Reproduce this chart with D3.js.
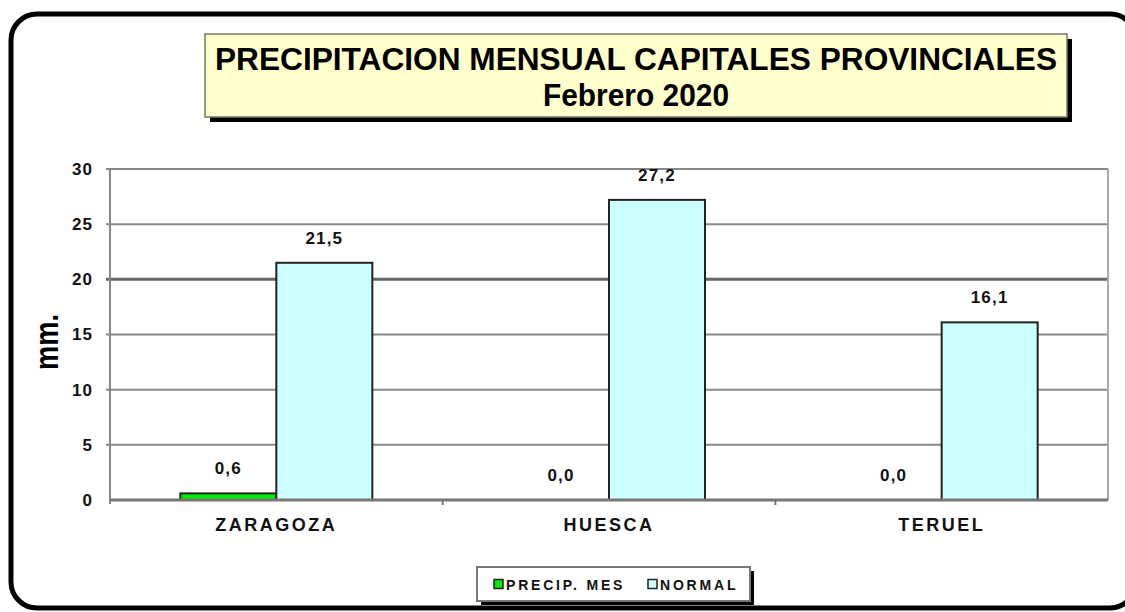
<!DOCTYPE html>
<html>
<head>
<meta charset="utf-8">
<script src="https://cdn.jsdelivr.net/npm/d3@7"></script>
<style>
  body { margin: 0; background: #fff; }
  text { font-family: Arial, "Liberation Sans", sans-serif; }
</style>
</head>
<body>
<script>
var categories = ["ZARAGOZA", "HUESCA", "TERUEL"];
var seriesNames = ["PRECIP. MES", "NORMAL"];
var precipMes = [0.6, 0.0, 0.0];
var normal = [21.5, 27.2, 16.1];
var yTicks = [0, 5, 10, 15, 20, 25, 30];
var colors = ["#00ee00", "#ccffff"];

function main() {
  var width = 1125, height = 612;
  var plotLeft = 110, plotRight = 1108, plotTop = 169, plotBottom = 500;

  var svg = d3.select("body").append("svg")
    .attr("width", width)
    .attr("height", height);

  // marco redondeado
  svg.append("rect")
    .attr("x", 11).attr("y", 14)
    .attr("width", 1125).attr("height", 594)
    .attr("rx", 26)
    .attr("fill", "none")
    .attr("stroke", "#000")
    .attr("stroke-width", 5);

  // titulo
  svg.append("rect").attr("x", 210).attr("y", 39).attr("width", 862).attr("height", 83).attr("fill", "#000");
  svg.append("rect").attr("x", 205).attr("y", 34).attr("width", 862).attr("height", 83)
    .attr("fill", "#ffffcc").attr("stroke", "#777766").attr("stroke-width", 1.5);
  svg.append("text").attr("x", 636).attr("y", 70).attr("text-anchor", "middle")
    .attr("font-size", 32).attr("font-weight", "bold")
    .attr("textLength", 842).attr("lengthAdjust", "spacingAndGlyphs")
    .text("PRECIPITACION MENSUAL CAPITALES PROVINCIALES");
  svg.append("text").attr("x", 636).attr("y", 106).attr("text-anchor", "middle")
    .attr("font-size", 32).attr("font-weight", "bold")
    .attr("textLength", 186).attr("lengthAdjust", "spacingAndGlyphs")
    .text("Febrero 2020");

  var y = d3.scaleLinear().domain([0, 30]).range([plotBottom, plotTop]);
  var x0 = d3.scaleBand().domain(categories).range([plotLeft, plotRight]);
  var x1 = d3.scaleBand().domain(seriesNames).range([0, 192]);

  // rejilla
  svg.append("g").selectAll("line")
    .data(yTicks.filter(function (d) { return d > 0; }))
    .enter().append("line")
    .attr("x1", plotLeft - 4).attr("x2", plotRight)
    .attr("y1", function (d) { return y(d); })
    .attr("y2", function (d) { return y(d); })
    .attr("stroke", function (d) { return d == 20 ? "#666" : "#888"; })
    .attr("stroke-width", function (d) { return d == 20 ? 3 : 2; });

  svg.append("line").attr("x1", plotRight).attr("x2", plotRight).attr("y1", plotTop).attr("y2", plotBottom)
    .attr("stroke", "#aaa").attr("stroke-width", 2);
  svg.append("line").attr("x1", plotLeft).attr("x2", plotLeft).attr("y1", plotTop).attr("y2", plotBottom + 4)
    .attr("stroke", "#888").attr("stroke-width", 2);

  // eje y
  var yAxis = svg.append("g")
    .attr("transform", "translate(" + (plotLeft - 17) + ",0)")
    .call(d3.axisLeft(y).tickValues(yTicks).tickSize(0).tickPadding(0));
  yAxis.select(".domain").remove();
  yAxis.selectAll("text")
    .attr("font-size", 17).attr("font-weight", "bold").attr("fill", "#111")
    .attr("letter-spacing", 1)
    .attr("font-family", "Arial, 'Liberation Sans', sans-serif");

  svg.append("text")
    .attr("transform", "translate(58,342) rotate(-90)")
    .attr("text-anchor", "middle")
    .attr("font-size", 34).attr("font-weight", "bold")
    .attr("textLength", 56).attr("lengthAdjust", "spacingAndGlyphs")
    .text("mm.");

  // barras
  var data = categories.map(function (c, i) {
    return { cat: c, vals: [{ s: seriesNames[0], v: precipMes[i], c: colors[0] }, { s: seriesNames[1], v: normal[i], c: colors[1] }] };
  });

  var groups = svg.append("g").selectAll("g")
    .data(data)
    .enter().append("g")
    .attr("transform", function (d) { return "translate(" + (x0(d.cat) + x0.bandwidth() / 2 - 96) + ",0)"; });

  groups.selectAll("rect")
    .data(function (d) { return d.vals; })
    .enter().append("rect")
    .attr("x", function (d) { return x1(d.s); })
    .attr("width", x1.bandwidth())
    .attr("y", function (d) { return y(d.v); })
    .attr("height", function (d) { return y(0) - y(d.v); })
    .attr("fill", function (d) { return d.c; })
    .attr("stroke", function (d) { return d.v > 0 ? "#222" : "none"; })
    .attr("stroke-width", 2);

  groups.selectAll("text")
    .data(function (d) { return d.vals; })
    .enter().append("text")
    .attr("x", function (d) { return x1(d.s) + x1.bandwidth() / 2; })
    .attr("y", function (d) { return y(d.v) - 19; })
    .attr("text-anchor", "middle")
    .attr("font-size", 17).attr("font-weight", "bold").attr("fill", "#111")
    .attr("letter-spacing", 1.2)
    .text(function (d) { return d.v.toFixed(1).replace(".", ","); });

  // eje x
  svg.append("line").attr("x1", plotLeft).attr("x2", plotRight).attr("y1", plotBottom).attr("y2", plotBottom)
    .attr("stroke", "#777").attr("stroke-width", 3);
  var xAxis = svg.append("g")
    .attr("transform", "translate(0," + plotBottom + ")")
    .call(d3.axisBottom(x0).tickSize(0).tickPadding(18));
  xAxis.select(".domain").remove();
  xAxis.selectAll("text")
    .attr("font-size", 18).attr("font-weight", "bold").attr("fill", "#111")
    .attr("letter-spacing", 2.5)
    .attr("font-family", "Arial, 'Liberation Sans', sans-serif");
  svg.append("g").selectAll("line")
    .data([1, 2])
    .enter().append("line")
    .attr("x1", function (d) { return plotLeft + d * x0.bandwidth(); })
    .attr("x2", function (d) { return plotLeft + d * x0.bandwidth(); })
    .attr("y1", plotBottom).attr("y2", plotBottom + 5)
    .attr("stroke", "#777").attr("stroke-width", 2);

  // leyenda
  svg.append("rect").attr("x", 481).attr("y", 571).attr("width", 273).attr("height", 34).attr("fill", "#000");
  svg.append("rect").attr("x", 477).attr("y", 567).attr("width", 273).attr("height", 34)
    .attr("fill", "#fff").attr("stroke", "#777").attr("stroke-width", 2);
  var legend = svg.append("g").selectAll("g")
    .data(seriesNames)
    .enter().append("g")
    .attr("transform", function (d, i) { return "translate(" + (494 + i * 154) + ",584)"; });
  legend.append("rect")
    .attr("x", 0).attr("y", -4.5).attr("width", 9).attr("height", 9)
    .attr("fill", function (d, i) { return colors[i]; })
    .attr("stroke", "#222").attr("stroke-width", 1.5);
  legend.append("text")
    .attr("x", 12).attr("y", 6)
    .attr("font-size", 14).attr("font-weight", "bold").attr("fill", "#111")
    .attr("letter-spacing", 2.8)
    .text(function (d) { return d; });
}

main();
</script>
</body>
</html>
